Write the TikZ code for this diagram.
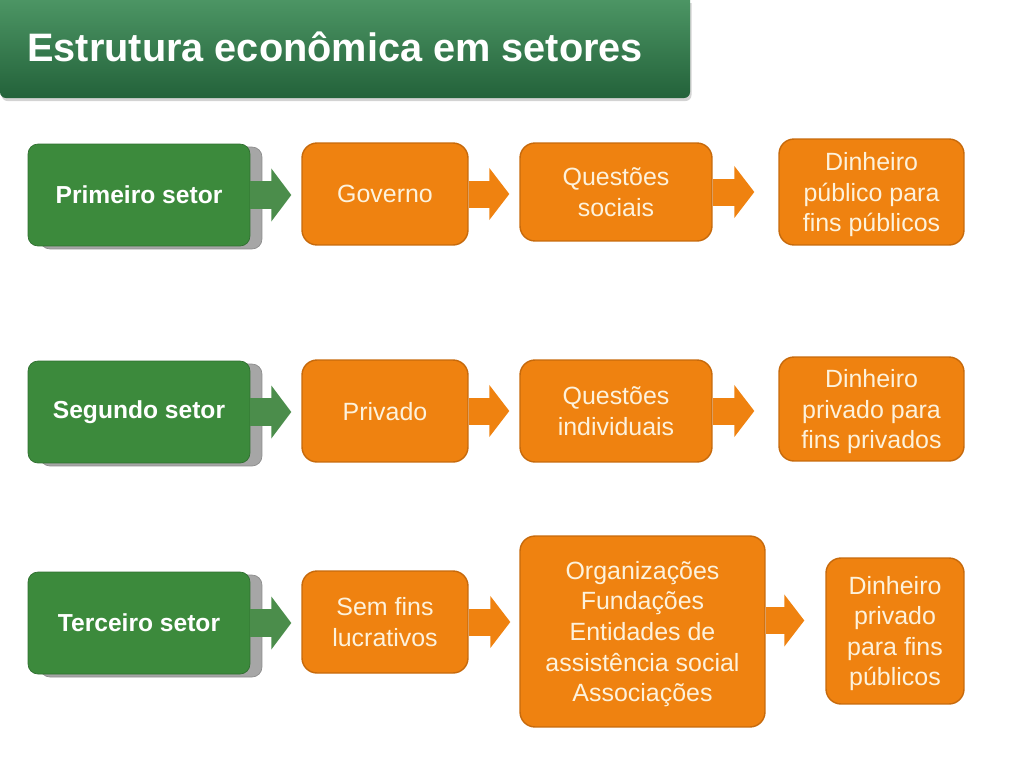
\documentclass[tikz,border=0pt]{standalone}
\usepackage{fontspec}
\setmainfont{Liberation Sans}
\usetikzlibrary{positioning, arrows.meta, shadows}
\definecolor{bartop}{HTML}{4C9564}
\definecolor{barbottom}{HTML}{23623A}
\definecolor{sectorgreen}{HTML}{3C8A3C}
\definecolor{arrowgreen}{HTML}{4B8D4B}
\definecolor{boxorange}{HTML}{EF8210}
\definecolor{edgeorange}{HTML}{C76A0C}
\definecolor{boxtext}{HTML}{FDF2DC}

\tikzset{
  sector/.style={rectangle, rounded corners=0.2cm, fill=sectorgreen, draw=sectorgreen!80!black, thin,
    minimum width=4.44cm, minimum height=2.04cm, text=white,
    font=\fontsize{14}{17}\selectfont\bfseries,
    copy shadow={shadow xshift=0.24cm, shadow yshift=-0.06cm, fill=gray!70, draw=gray!90}},
  item/.style={rectangle, rounded corners=0.3cm, fill=boxorange, draw=edgeorange, line width=0.8pt,
    align=center, text=boxtext, text depth=0pt, font=\fontsize{14.2}{17.4}\selectfont},
  flowgreen/.style={draw=arrowgreen, line width=0.56cm, -{Triangle[length=0.4cm, width=1.04cm]}},
  floworange/.style={draw=boxorange, line width=0.54cm, -{Triangle[length=0.4cm, width=1.02cm]}}
}

\begin{document}
\begin{tikzpicture}[x=0.02cm, y=-0.02cm]
\useasboundingbox (0,0) rectangle (1024,768);

% title bar
\path[top color=bartop, bottom color=barbottom, drop shadow={opacity=0.35, shadow xshift=0.03cm, shadow yshift=-0.06cm}]
  (0,0) -- (690,0) [rounded corners=0.12cm] -- (690,98) -- (0,98) [sharp corners] -- cycle;
\node[anchor=west, inner sep=0pt, text=white, font=\fontsize{22.6}{27}\selectfont\bfseries] (title) at (27,47) {Estrutura econômica em setores};

% first row
\node[sector] (s1) at (139,195) {Primeiro setor};
\node[item, minimum width=3.32cm, minimum height=2.04cm] (g1) at (385,194) {Governo};
\node[item, minimum width=3.84cm, minimum height=1.96cm] (q1) at (616,192) {Questões\\sociais};
\node[item, minimum width=3.70cm, minimum height=2.12cm] (d1) at (871.5,192) {Dinheiro\\público para\\fins públicos};

% second row
\node[sector] (s2) at (139,412) {Segundo setor};
\node[item, minimum width=3.32cm, minimum height=2.04cm] (p2) at (385,411) {Privado};
\node[item, minimum width=3.84cm, minimum height=2.04cm] (q2) at (616,411) {Questões\\individuais};
\node[item, minimum width=3.70cm, minimum height=2.08cm] (d2) at (871.5,409) {Dinheiro\\privado para\\fins privados};

% third row
\node[sector] (s3) at (139,623) {Terceiro setor};
\node[item, minimum width=3.32cm, minimum height=2.04cm] (l3) at (385,622) {Sem fins\\lucrativos};
\node[item, minimum width=4.90cm, minimum height=3.82cm] (o3) at (642.5,631.5) {Organizações\\Fundações\\Entidades de\\assistência social\\Associações};
\node[item, minimum width=2.76cm, minimum height=2.92cm] (d3) at (895,631) {Dinheiro\\privado\\para fins\\públicos};

% arrows
\draw[flowgreen, shorten >=0.2cm] (s1.east) -- (s1.east -| g1.west);
\draw[flowgreen, shorten >=0.2cm] (s2.east) -- (s2.east -| p2.west);
\draw[flowgreen, shorten >=0.2cm] (s3.east) -- (s3.east -| l3.west);
\draw[floworange, shorten >=0.2cm] (g1.east) -- (g1.east -| q1.west);
\draw[floworange, shorten >=0.48cm] (q1.east) -- (q1.east -| d1.west);
\draw[floworange, shorten >=0.2cm] (p2.east) -- (p2.east -| q2.west);
\draw[floworange, shorten >=0.48cm] (q2.east) -- (q2.east -| d2.west);
\draw[floworange, shorten >=0.18cm] (l3.east) -- (l3.east -| o3.west);
\draw[floworange, shorten >=0.42cm] ([yshift=0.22cm]o3.east) -- ([yshift=0.22cm]o3.east -| d3.west);

\end{tikzpicture}
\end{document}
